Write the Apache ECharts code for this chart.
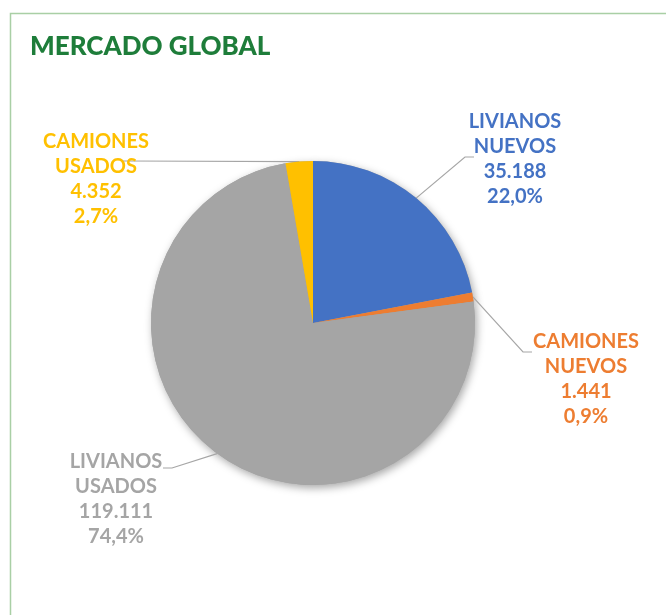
<!DOCTYPE html>
<html><head><meta charset="utf-8">
<script src="https://cdn.jsdelivr.net/npm/echarts@6/dist/echarts.min.js"></script>
<style>html,body{margin:0;padding:0;background:#fff}#c{width:666px;height:615px}</style>
</head><body><div id="c"></div>
<script>
// ---- data ----
const categories = ['LIVIANOS NUEVOS', 'CAMIONES NUEVOS', 'LIVIANOS USADOS', 'CAMIONES USADOS'];
const values = [35188, 1441, 119111, 4352];
const colors = ['#4472c4', '#ed7d31', '#a5a5a5', '#ffc000'];
const titleText = 'MERCADO GLOBAL';

// ---- label layout (positions of label blocks and leader lines, px) ----
const labelCenters = [[515, 159], [586, 379], [116, 499], [96, 179]];
const leaderKnees  = [[465, 157], [523, 352], [172, 468], [127, 161]];
const leaderEnds   = [[474, 157], [532, 352], [163, 468], [122, 161]];

function fmtThousands(v) {
  return String(v).replace(/\B(?=(\d{3})+(?!\d))/g, '.');
}
function fmtPct(p) {
  return p.toFixed(1).replace('.', ',') + '%';
}

const pieData = categories.map((n, i) => ({
  name: n,
  value: values[i],
  itemStyle: { color: colors[i] },
  label: { color: colors[i] }
}));

const chart = echarts.init(document.getElementById('c'), null, { renderer: 'canvas' });
chart.setOption({
  backgroundColor: '#ffffff',
  animation: false,
  title: {
    text: titleText,
    left: 25,
    top: 29,
    textStyle: { fontFamily: 'Lato', fontWeight: 900, fontSize: 26, color: '#1e7d3a' }
  },
  graphic: [{
    type: 'rect',
    silent: true,
    z: -10,
    shape: { x: 10.5, y: 13.5, width: 700, height: 700 },
    style: { fill: 'none', stroke: '#a9cfa5', lineWidth: 1.5 }
  }],
  series: [
    {
      // shadow base
      type: 'pie',
      silent: true,
      z: 1,
      center: [313, 323],
      radius: 162,
      startAngle: 90,
      clockwise: true,
      label: { show: false },
      labelLine: { show: false },
      itemStyle: {
        color: '#a5a5a5',
        shadowBlur: 8,
        shadowOffsetX: 2,
        shadowOffsetY: 3,
        shadowColor: 'rgba(0,0,0,0.35)'
      },
      data: values.map((v, i) => ({ name: categories[i], value: v }))
    },
    {
      type: 'pie',
      z: 2,
      center: [313, 323],
      radius: 162,
      startAngle: 90,
      clockwise: true,
      percentPrecision: 1,
      avoidLabelOverlap: false,
      itemStyle: { borderWidth: 0 },
      label: {
        show: true,
        position: 'outside',
        fontFamily: 'Lato',
        fontWeight: 'bold',
        fontSize: 20,
        lineHeight: 25,
        formatter: function (p) {
          return p.name.replace(' ', '\n') + '\n' + fmtThousands(p.value) + '\n' + fmtPct(p.percent);
        }
      },
      labelLine: {
        show: true,
        length: 40,
        length2: 10,
        smooth: false,
        lineStyle: { color: '#a6a6a6', width: 1.2 }
      },
      labelLayout: function (params) {
        const i = params.dataIndex;
        let p0 = params.labelLinePoints && params.labelLinePoints[0];
        if (!p0) {
          const total = values.reduce((a, b) => a + b, 0);
          let acc = 0;
          for (let k = 0; k < i; k++) acc += values[k];
          const mid = (acc + values[i] / 2) / total * 2 * Math.PI;
          p0 = [313 + 162 * Math.sin(mid), 323 - 162 * Math.cos(mid)];
        }
        return {
          x: labelCenters[i][0],
          y: labelCenters[i][1],
          align: 'center',
          verticalAlign: 'middle',
          labelLinePoints: [p0, leaderKnees[i], leaderEnds[i]]
        };
      },
      data: pieData
    }
  ]
});
</script>
</body></html>
